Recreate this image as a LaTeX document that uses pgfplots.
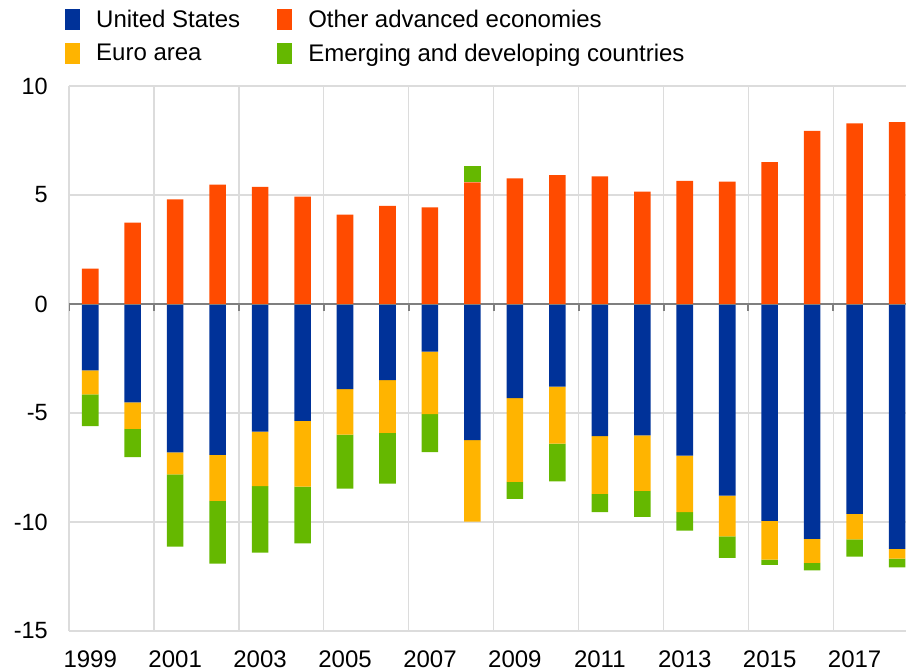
\documentclass[border=0pt]{standalone}
\usepackage{pgfplots}
\usepackage{pgfplotstable}
\pgfplotsset{compat=1.18}
\usepackage{fontspec}
\setmainfont{Liberation Sans}
\definecolor{usblue}{HTML}{003299}
\definecolor{euroyellow}{HTML}{FFB400}
\definecolor{othorange}{HTML}{FF4B00}
\definecolor{emgreen}{HTML}{65B800}
\definecolor{gridgray}{HTML}{DCDCDC}
\definecolor{zerogray}{HTML}{7F7F7F}
\pgfplotstableread{
x us euro emneg other empos
0 -3.04 -1.10 -1.46 1.62 0
1 -4.51 -1.22 -1.29 3.73 0
2 -6.81 -1.01 -3.31 4.80 0
3 -6.92 -2.11 -2.88 5.48 0
4 -5.86 -2.50 -3.05 5.37 0
5 -5.36 -3.02 -2.60 4.92 0
6 -3.90 -2.09 -2.48 4.10 0
7 -3.49 -2.42 -2.33 4.50 0
8 -2.18 -2.87 -1.74 4.43 0
9 -6.24 -3.74 0 5.58 0.73
10 -4.32 -3.84 -0.78 5.76 0
11 -3.79 -2.61 -1.74 5.91 0
12 -6.06 -2.65 -0.84 5.85 0
13 -6.03 -2.54 -1.19 5.15 0
14 -6.96 -2.59 -0.84 5.65 0
15 -8.79 -1.87 -0.98 5.61 0
16 -9.95 -1.78 -0.24 6.51 0
17 -10.77 -1.11 -0.34 7.94 0
18 -9.63 -1.17 -0.79 8.29 0
19 -11.23 -0.45 -0.40 8.34 0
}\datatable
\pgfplotsset{
  common/.style={
    at={(0,0)}, anchor=south west,
    scale only axis,
    width=837bp, height=545bp,
    xmin=-0.5, xmax=19.21,
    ymin=-15, ymax=10,
    ybar stacked, bar width=0.39,
  }
}
\begin{document}
\begin{tikzpicture}
\begin{axis}[
  common,
  axis line style={draw=none},
  major tick length=0pt, minor tick length=0pt,
  xtick={0,2,...,18},
  xticklabels={1999,2001,2003,2005,2007,2009,2011,2013,2015,2017},
  minor xtick={-0.5,1.5,...,17.5},
  xminorgrids=true, xmajorgrids=false,
  ytick={-15,-10,-5,0,5,10},
  yticklabels={-15,-10,-5,0,5,10},
  ymajorgrids=true,
  grid style={gridgray, line width=1.3bp},
  minor grid style={gridgray, line width=1.3bp},
  xticklabel style={font=\fontsize{24bp}{28bp}\selectfont, anchor=north, inner sep=0pt, yshift=-20bp},
  yticklabel style={font=\fontsize{23.5bp}{28bp}\selectfont, anchor=east, inner sep=0pt, xshift=-21bp},
  legend columns=2,
  legend cell align=left,
  legend image code/.code={\fill[#1] (0bp,-10.5bp) rectangle (15bp,10.5bp);},
  legend style={draw=none, fill=none, inner sep=0pt,
    at={(axis description cs:0,1)}, anchor=south west,
    xshift=-4bp, yshift=22bp,
    font=\fontsize{24bp}{28bp}\selectfont,
    nodes={inner sep=0pt},
    row sep=13bp,
    /tikz/every odd column/.append style={column sep=16bp},
    /tikz/every even column/.append style={column sep=37bp}},
]
\addplot[fill=usblue, draw=none, forget plot] table[x=x, y=us]{\datatable};
\addplot[fill=euroyellow, draw=none, forget plot] table[x=x, y=euro]{\datatable};
\addplot[fill=emgreen, draw=none, forget plot] table[x=x, y=emneg]{\datatable};
\addlegendimage{fill=usblue, draw=none}
\addlegendentry{United States}
\addlegendimage{fill=othorange, draw=none}
\addlegendentry{Other advanced economies}
\addlegendimage{fill=euroyellow, draw=none}
\addlegendentry{Euro area}
\addlegendimage{fill=emgreen, draw=none}
\addlegendentry{Emerging and developing countries}
\end{axis}
\begin{axis}[common, hide axis]
\addplot[fill=othorange, draw=none] table[x=x, y=other]{\datatable};
\addplot[fill=emgreen, draw=none] table[x=x, y=empos]{\datatable};
\draw[zerogray, line width=2bp] (axis cs:-0.5,0) -- (axis cs:19.21,0);
\pgfplotsinvokeforeach{-0.5,1.5,3.5,5.5,7.5,9.5,11.5,13.5,15.5,17.5}{
  \draw[zerogray, line width=2bp] (axis cs:#1,0) -- ([yshift=-7bp]axis cs:#1,0);
}
\end{axis}
\pgfresetboundingbox
\useasboundingbox (-69bp,-41bp) rectangle (837bp,631bp);
\end{tikzpicture}
\end{document}
